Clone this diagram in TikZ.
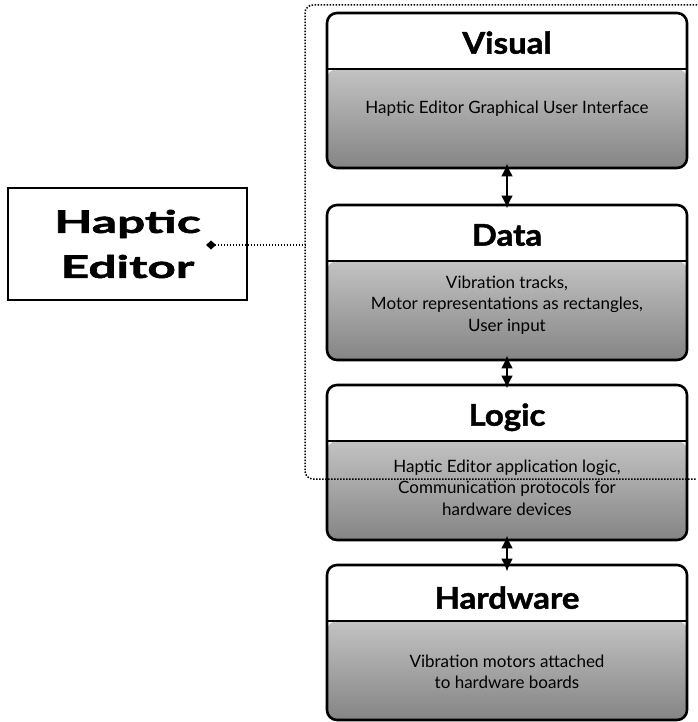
\documentclass[tikz,border=0pt]{standalone}
\usepackage{fontspec}
\setmainfont{Lato}
\newfontfamily\headfont{Lato}[FakeStretch=1.1, BoldFeatures={FakeBold=1.5}]
\newfontfamily\editorfont{Lato}[FakeStretch=1.6, BoldFeatures={FakeBold=2}]
\usetikzlibrary{positioning}
\usetikzlibrary{arrows.meta}
\usetikzlibrary{calc}

\tikzset{
  layer/.style={draw, fill=white, line width=2.6pt, rounded corners=10pt,
    minimum width=360pt, minimum height=155pt, inner sep=0pt,
    path picture={
      \shade[top color=black!10, bottom color=black!48]
        ($(path picture bounding box.north west)+(0,-56pt)$) rectangle (path picture bounding box.south east);
      \draw[line width=2.6pt] ($(path picture bounding box.north west)+(0,-56pt)$) -- ++(360pt,0);}},
  layertitle/.style={anchor=base, font=\headfont\bfseries\fontsize{30}{32}\selectfont},
  layertext/.style={align=center, font=\fontsize{17}{21.5}\selectfont},
  biarrow/.style={{Latex[length=13pt,width=12pt]}-{Latex[length=13pt,width=12pt]}, line width=2.8pt},
  groupline/.style={dash pattern=on 1.5pt off 1.5pt, line width=1.5pt},
}

\begin{document}
\begin{tikzpicture}[x=1pt,y=1pt]
\useasboundingbox (0,0) rectangle (697,-722);

% the four layers
\node[layer] (visual) at (507,-90.5) {};
\node[layer] (data) at (507,-282.5) {};
\node[layer] (logic) at (507,-462.5) {};
\node[layer] (hardware) at (507,-642.5) {};

\node[layertitle] (visualtitle) at ($(visual.north)+(0,-42)$) {Visual};
\node[layertitle] (datatitle) at ($(data.north)+(0,-42)$) {Data};
\node[layertitle] (logictitle) at ($(logic.north)+(0,-42)$) {Logic};
\node[layertitle] (hardwaretitle) at ($(hardware.north)+(0,-45)$) {Hardware};

\node[layertext] (visualtext) at ($(visual.north)+(0,-97)$) {Haptic Editor Graphical User Interface};
\node[layertext] (datatext) at ($(data.north)+(0,-101)$) {Vibration tracks,\\Motor representations as rectangles,\\User input};
\node[layertext] (logictext) at ($(logic.north)+(0,-104)$) {Haptic Editor application logic,\\Communication protocols for\\hardware devices};
\node[layertext] (hardwaretext) at ($(hardware.north)+(0,-108)$) {Vibration motors attached\\to hardware boards};

\draw[biarrow] ([yshift=6pt]visual.south) -- ([yshift=-5pt]data.north);
\draw[biarrow] ([yshift=6pt]data.south) -- ([yshift=-5pt]logic.north);
\draw[biarrow] ([yshift=6pt]logic.south) -- ([yshift=-8pt]hardware.north);

% the editor and its group
\node[draw, line width=1.6pt, minimum width=239pt, minimum height=112pt, align=center,
  font=\editorfont\bfseries\fontsize{31}{45}\selectfont] (editor) at (127.5,-244) {Haptic\\Editor};
\coordinate (editorport) at (206,-245);
\coordinate (framejoin) at (305,-245);
\draw[groupline, rounded corners=8pt] (697,-5) -- (305,-5) -- (305,-479) -- (697,-479);
\draw[groupline, {Diamond[length=10pt,width=9pt,sep=0pt]}-] (editorport) -- (framejoin);
\end{tikzpicture}
\end{document}
